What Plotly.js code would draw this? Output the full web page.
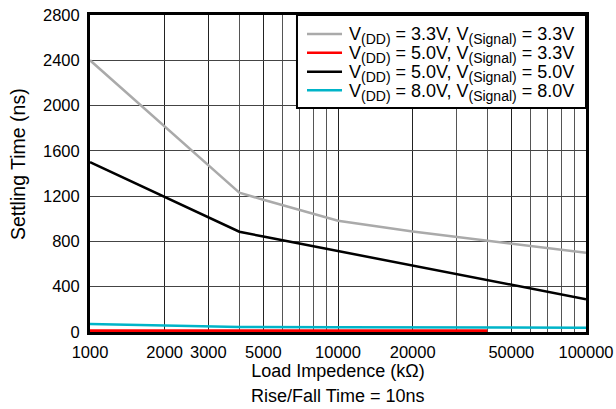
<!DOCTYPE html>
<html>
<head>
<meta charset="utf-8">
<script src="https://cdn.plot.ly/plotly-3.0.1.min.js"></script>
<style>html,body{margin:0;padding:0;background:#fff;}#chart{width:616px;height:409px;}</style>
</head>
<body>
<div id="chart"></div>
<script>
// Load impedance (kΩ) and settling time (ns)
const vdd = ["3.3V", "5.0V", "5.0V", "8.0V"];
const vsig = ["3.3V", "3.3V", "5.0V", "8.0V"];

const xVdd33Sig33 = [1000, 4000, 5000, 10000, 20000, 50000, 100000];
const yVdd33Sig33 = [2400, 1230, 1168, 982, 888, 783, 700];

const xVdd50Sig33 = [1000, 10000, 40000];
const yVdd50Sig33 = [12, 12, 12];

const xVdd50Sig50 = [1000, 2000, 4000, 5000, 10000, 20000, 40000, 50000, 100000];
const yVdd50Sig50 = [1500, 1195, 886, 843, 715, 585, 462, 420, 290];

const xVdd80Sig80 = [1000, 2000, 4000, 10000, 100000];
const yVdd80Sig80 = [71, 58, 45, 42, 38];

const xTickVals = [1000, 2000, 3000, 5000, 10000, 20000, 50000, 100000];
const xTickText = ["1000", "2000", "3000", "5000", "10000", "20000", "50000", "100000"];
const xMinorVals = [4000, 6000, 7000, 8000, 9000, 30000, 40000, 60000, 70000, 80000, 90000];
const yTickVals = [0, 400, 800, 1200, 1600, 2000, 2400, 2800];

const colors = ["#aaaaaa", "#ff0000", "#000000", "#00b4c8"];

const sub = s => "<sub><span style='font-size:14px'>" + s + "</span></sub>";
const seriesNames = vdd.map((v, i) => "V" + sub("(DD)") + " = " + v + ", V" + sub("(Signal)") + " = " + vsig[i]);

const xs = [xVdd33Sig33, xVdd50Sig33, xVdd50Sig50, xVdd80Sig80];
const ys = [yVdd33Sig33, yVdd50Sig33, yVdd50Sig50, yVdd80Sig80];
const widths = [2.5, 3, 2.5, 2.5];

const traces = xs.map((x, i) => ({
  type: "scatter", mode: "lines", x: x, y: ys[i], name: seriesNames[i],
  line: {color: colors[i], width: widths[i]}, showlegend: false
}));

const font = "Liberation Sans, Arial, sans-serif";

// custom legend (box, samples, labels) in paper coordinates
const legendRowY = [0.940, 0.881, 0.821, 0.763];
const shapes = [
  {type: "rect", xref: "paper", yref: "paper", x0: 0.4173, x1: 1, y0: 0.7066, y1: 1,
   fillcolor: "#fff", line: {color: "#000", width: 2}, layer: "above"}
].concat(legendRowY.map((y, i) => ({
  type: "line", xref: "paper", yref: "paper", x0: 0.4375, x1: 0.5081, y0: y, y1: y,
  line: {color: colors[i], width: 2.5}, layer: "above"
})));

const legendLabels = legendRowY.map((y, i) => ({
  text: seriesNames[i], xref: "paper", yref: "paper", x: 0.519, y: y - 0.006,
  xanchor: "left", yanchor: "middle", showarrow: false,
  font: {family: font, size: 18, color: "#000"}
}));

const layout = {
  width: 616, height: 409,
  margin: {l: 90, r: 30, t: 15, b: 77},
  paper_bgcolor: "#fff", plot_bgcolor: "#fff",
  font: {family: font, color: "#000", size: 16},
  showlegend: false,
  xaxis: {
    type: "log",
    range: [3, 5],
    tickmode: "array", tickvals: xTickVals, ticktext: xTickText,
    showgrid: true, gridcolor: "#222", gridwidth: 1,
    minor: {tickmode: "array", tickvals: xMinorVals, showgrid: true, gridcolor: "#555", gridwidth: 1, ticks: ""},
    ticks: "", showline: true, linecolor: "#000", linewidth: 3, mirror: true,
    zeroline: false,
    tickfont: {family: font, size: 16.5},
    ticklabelstandoff: 3,
    title: {text: "Load Impedence (k\u03A9)", font: {family: font, size: 18}, standoff: 2}
  },
  yaxis: {
    range: [0, 2800],
    tickmode: "array", tickvals: yTickVals,
    showgrid: true, gridcolor: "#444", gridwidth: 1,
    ticks: "", showline: true, linecolor: "#000", linewidth: 3, mirror: true,
    zeroline: false,
    tickfont: {family: font, size: 16.5},
    ticklabelstandoff: 4
  },
  shapes: shapes,
  annotations: [
    {text: "Settling Time (ns)", xref: "paper", yref: "paper", x: -0.145, y: 0.53,
     xanchor: "center", yanchor: "middle", textangle: -90, showarrow: false,
     font: {family: font, size: 19.5}},
    {text: "Rise/Fall Time = 10ns", xref: "paper", yref: "paper", x: 0.5, y: -0.202,
     xanchor: "center", yanchor: "middle", showarrow: false,
     font: {family: font, size: 18}}
  ].concat(legendLabels)
};

Plotly.newPlot("chart", traces, layout, {displayModeBar: false, staticPlot: true});
</script>
</body>
</html>
